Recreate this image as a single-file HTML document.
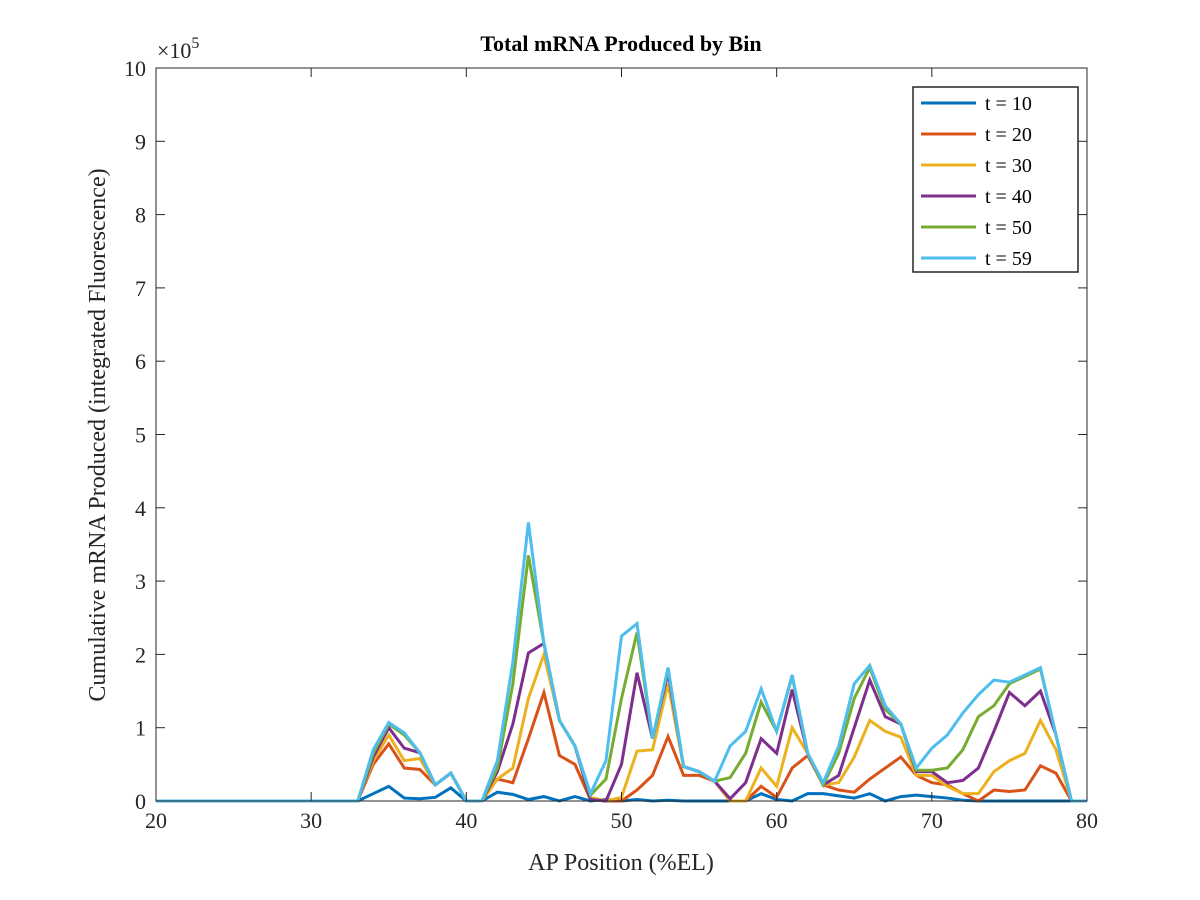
<!DOCTYPE html>
<html><head><meta charset="utf-8"><style>
body{margin:0;background:#fff}
svg{display:block;font-family:"Liberation Serif",serif}
</style></head><body>
<svg id="chart" width="1200" height="900">
<rect width="1200" height="900" fill="#fff"/>
<g id="plot"></g>
</svg>
<script>
const xs=[]; for(let i=20;i<=80;i++) xs.push(i);
const pre=new Array(14).fill(0); // x=20..33
const t10=pre.concat([0.1,0.2,0.04,0.03,0.05,0.18,0,0,0.12,0.09,0.02,0.06,0,0.06,0,0.02,0,0.02,0,0.01,0,0,0,0,0,0.1,0.02,0,0.1,0.1,0.07,0.04,0.1,0,0.06,0.08,0.06,0.04,0.01,0,0,0,0,0,0,0,0]);
const t20=pre.concat([0.5,0.78,0.45,0.43,0.22,0.38,0,0,0.3,0.25,0.85,1.48,0.62,0.5,0.02,0,0,0.15,0.35,0.88,0.35,0.35,0.27,0,0,0.2,0.05,0.45,0.62,0.22,0.15,0.12,0.3,0.45,0.6,0.35,0.25,0.22,0.1,0,0.15,0.13,0.15,0.48,0.38,0,0]);
const t30=pre.concat([0.55,0.9,0.55,0.58,0.22,0.38,0,0,0.3,0.45,1.4,2.0,1.1,0.75,0.05,0,0.05,0.68,0.7,1.6,0.47,0.4,0.27,0,0,0.45,0.2,1.0,0.65,0.22,0.25,0.6,1.1,0.95,0.87,0.35,0.35,0.2,0.1,0.1,0.4,0.55,0.65,1.1,0.7,0,0]);
const t40=pre.concat([0.6,1.0,0.72,0.66,0.22,0.38,0,0,0.4,1.05,2.02,2.15,1.1,0.75,0.02,0,0.5,1.75,0.85,1.75,0.47,0.4,0.27,0.03,0.25,0.85,0.65,1.52,0.65,0.22,0.35,1.0,1.65,1.15,1.05,0.4,0.4,0.25,0.28,0.45,0.95,1.48,1.3,1.5,0.9,0,0]);
const t50=pre.concat([0.65,1.05,0.9,0.66,0.22,0.38,0,0,0.45,1.6,3.35,2.15,1.1,0.75,0.08,0.3,1.4,2.3,0.85,1.8,0.47,0.4,0.27,0.32,0.65,1.35,0.95,1.7,0.65,0.22,0.65,1.4,1.82,1.25,1.05,0.42,0.42,0.45,0.7,1.15,1.3,1.6,1.7,1.8,0.9,0,0]);
const t59=pre.concat([0.7,1.07,0.93,0.66,0.22,0.38,0,0,0.55,1.9,3.8,2.15,1.1,0.75,0.1,0.55,2.25,2.42,0.85,1.82,0.47,0.4,0.27,0.75,0.95,1.53,0.95,1.72,0.65,0.25,0.75,1.6,1.85,1.3,1.05,0.45,0.72,0.9,1.2,1.45,1.65,1.62,1.72,1.82,0.9,0,0]);
const seriesNames=["t = 10","t = 20","t = 30","t = 40","t = 50","t = 59"];
const seriesData=[t10,t20,t30,t40,t50,t59];
const colors=["#0072BD","#D95319","#EDB120","#7E2F8E","#77AC30","#4DBEEE"];
const xTicks=[20,30,40,50,60,70,80];
const yTicks=[0,1,2,3,4,5,6,7,8,9,10];

const L=156,R=1087,T=68,B=801;
const X=v=>L+(v-20)/60*(R-L);
const Y=v=>B-v/10*(B-T);
const NS="http://www.w3.org/2000/svg";
const g=document.getElementById('plot');
function mk(tag,attrs,parent){const e=document.createElementNS(NS,tag);for(const k in attrs)e.setAttribute(k,attrs[k]);(parent||g).appendChild(e);return e;}

seriesData.forEach((d,i)=>{
  const p=mk('polyline',{points:d.map((v,j)=>X(xs[j])+','+Y(v)).join(' '),fill:'none',stroke:colors[i],'stroke-width':3,'stroke-linejoin':'miter'});
  
  
});
const frame=mk('rect',{x:L,y:T,width:R-L,height:B-T,fill:'none',stroke:'#262626','stroke-width':1});


xTicks.forEach(v=>{
  mk('line',{x1:X(v),x2:X(v),y1:B,y2:B-9,stroke:'#262626'});
  mk('line',{x1:X(v),x2:X(v),y1:T,y2:T+9,stroke:'#262626'});
  const t=mk('text',{x:X(v),y:B+27,'text-anchor':'middle','font-size':22,fill:'#262626'});t.textContent=v;
  
  
});
yTicks.forEach(v=>{
  mk('line',{x1:L,x2:L+9,y1:Y(v),y2:Y(v),stroke:'#262626'});
  mk('line',{x1:R,x2:R-9,y1:Y(v),y2:Y(v),stroke:'#262626'});
  const t=mk('text',{x:L-10,y:Y(v)+8,'text-anchor':'end','font-size':22,fill:'#262626'});t.textContent=v;
  
  
});
const ex=mk('text',{x:157,y:58,'font-size':22,fill:'#262626'});ex.innerHTML='×10<tspan dy="-10" font-size="16">5</tspan>';


const ti=mk('text',{x:621,y:51,'text-anchor':'middle','font-size':22,'font-weight':'bold',fill:'#000'});ti.textContent='Total mRNA Produced by Bin';


const xl=mk('text',{x:621,y:870,'text-anchor':'middle','font-size':24,fill:'#262626'});xl.textContent='AP Position (%EL)';


const yl=mk('text',{x:0,y:0,transform:'translate(105,435) rotate(-90)','text-anchor':'middle','font-size':24,fill:'#262626'});yl.textContent='Cumulative mRNA Produced (integrated Fluorescence)';


const lg=mk('g',{});


mk('rect',{x:913,y:87,width:165,height:185,fill:'#fff',stroke:'#262626','stroke-width':1.5},lg);
seriesNames.forEach((n,i)=>{
  const y=103+i*31;
  const e=mk('g',{},lg);
  
  
  mk('line',{x1:921,x2:976,y1:y,y2:y,stroke:colors[i],'stroke-width':3},e);
  const t=mk('text',{x:985,y:y+7,'font-size':20,fill:'#000'},e);t.textContent=n;
});
</script>
</body></html>
